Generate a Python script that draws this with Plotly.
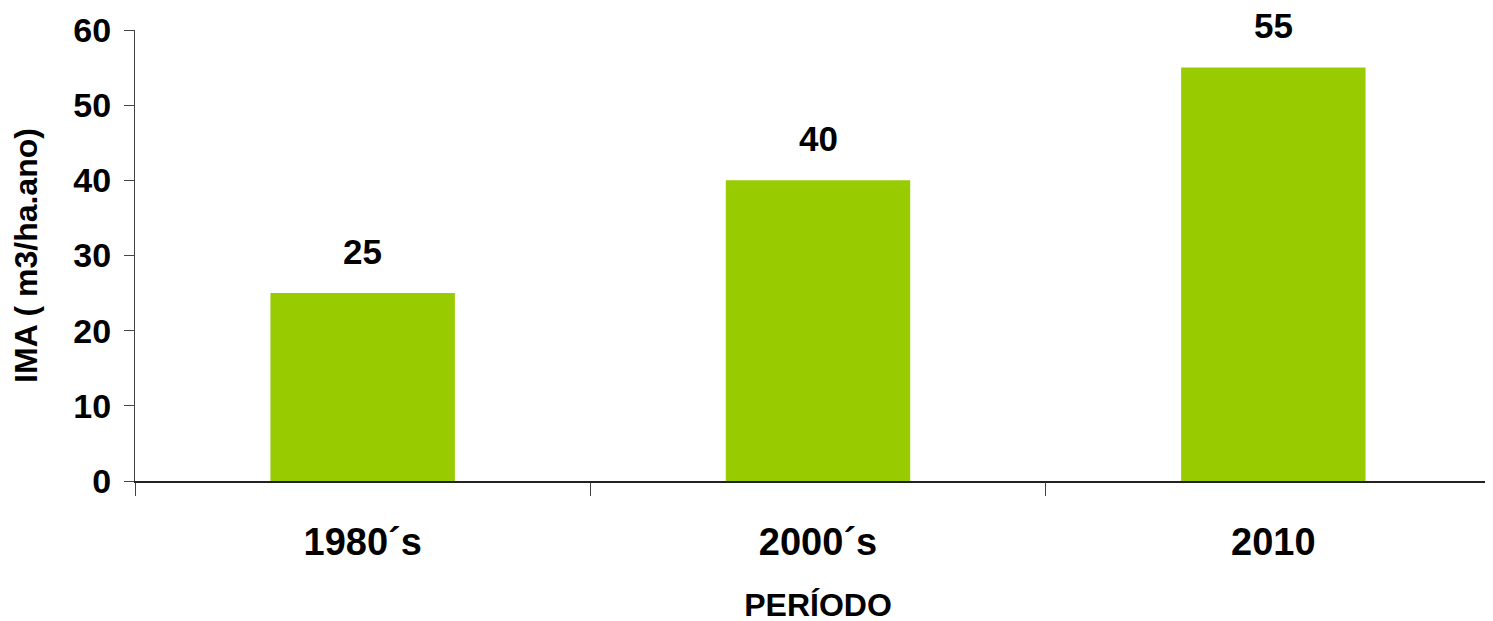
import plotly.graph_objects as go

categories = ["1980´s", "2000´s", "2010"]
values = [25, 40, 55]
y_ticks = [0, 10, 20, 30, 40, 50, 60]

FONT = "Liberation Sans, Arial, sans-serif"
GREEN = "#99CC00"

fig = go.Figure()
fig.add_trace(go.Bar(
    x=list(range(len(categories))), y=values, width=0.405,
    marker=dict(color=GREEN, line=dict(width=0)),
    hoverinfo="skip",
))

for i, v in enumerate(values):
    fig.add_annotation(
        x=i, y=v, xref="x", yref="y", text=str(v), showarrow=False,
        yanchor="middle", yshift=42, borderpad=0,
        font=dict(family=FONT, size=35, color="black", weight="bold"),
    )

fig.update_layout(
    width=1493, height=621,
    margin=dict(l=127, r=0, t=22, b=148, autoexpand=False),
    paper_bgcolor="white", plot_bgcolor="white",
    showlegend=False,
)

fig.update_xaxes(
    range=[-0.5, 2.5],
    tickmode="array", tickvals=list(range(len(categories))), ticktext=categories,
    showline=True, linecolor="#222222", linewidth=2,
    ticks="", showgrid=False, zeroline=False,
    tickfont=dict(family=FONT, size=38, color="black", weight="bold"),
    ticklabelstandoff=26,
    title=dict(text="PERÍODO", font=dict(family=FONT, size=32, color="black", weight="bold"), standoff=32),
    automargin=False,
    minor=dict(tickmode="array", tickvals=[-0.5, 0.5, 1.5, 2.5], ticks="outside",
               ticklen=13, tickcolor="#444444", tickwidth=1, showgrid=False),
)

fig.update_yaxes(
    range=[0, 60],
    tickmode="array", tickvals=y_ticks, ticktext=[str(t) for t in y_ticks],
    showline=True, linecolor="#444444", linewidth=1,
    ticks="outside", ticklen=10, tickcolor="#444444", tickwidth=1,
    tickfont=dict(family=FONT, size=34, color="black", weight="bold"),
    ticklabelstandoff=6,
    showgrid=False, zeroline=False,
    title=dict(text="IMA ( m3/ha.ano)", font=dict(family=FONT, size=32, color="black", weight="bold"), standoff=28),
    automargin=False,
)

fig.write_html("out.html")
